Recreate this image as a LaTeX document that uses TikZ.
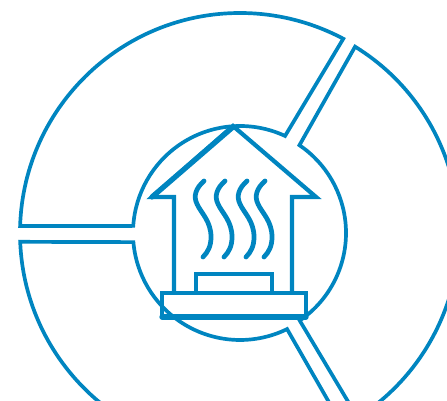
\documentclass[tikz,border=0pt]{standalone}
\usepackage{xcolor}
\usetikzlibrary{calc}
\definecolor{accent}{HTML}{0085C0}
\tikzset{
  vrim/.style={draw=accent,line width=2.1pt,line join=miter},
  vhub/.style={draw=accent,line width=1.8pt},
  vhouse/.style={draw=accent,line width=2.4pt,line join=miter},
  vheavy/.style={draw=accent,line width=3pt,line cap=round},
  vsteam/.style={draw=accent,line width=2.7pt,line cap=round}
}
\begin{document}
\begin{tikzpicture}[x=0.2mm,y=0.2mm]
  \useasboundingbox (0,0) rectangle (447,401);
  \clip (0,0) rectangle (447,401);
  \coordinate (hub) at (240,168);
  % three sectors round the hub
  \draw[vrim] ($(hub)+(178.2:220)$) arc[start angle=178.2,end angle=62,radius=220]
     -- ($(hub)+(65.1:107)$) arc[start angle=65.1,end angle=176.2,radius=107] -- cycle;
  \draw[vrim] ($(hub)+(58.3:219)$) arc[start angle=58.3,end angle=-57.5,radius=219]
     -- ($(hub)+(-55.7:106)$) arc[start angle=-55.7,end angle=55.9,radius=106] -- cycle;
  \draw[vrim] ($(hub)+(182.3:220)$) arc[start angle=182.3,end angle=298,radius=220]
     -- ($(hub)+(-63.9:107)$) arc[start angle=296.1,end angle=184.9,radius=107] -- cycle;
  % house
  \draw[vhouse] (174,109) -- (174,204) -- (152,204) -- (233,275) -- (316,204) -- (292,204) -- (292,109);
  \draw[vheavy] (152,204) -- (233,274);
  \draw[vhouse] (196,109) -- (196,127) -- (272,127) -- (272,109);
  \draw[vhouse] (162,108) rectangle (306,84);
  \draw[vheavy] (162,84) -- (306,84);
  % steam
  \foreach \sx in {0,21,43,61} {
    \draw[vsteam,shift={(\sx,0)}] (204,220) .. controls (196,213) and (193,205) .. (197,197)
       .. controls (201,188) and (211,180) .. (211,164) .. controls (211,155) and (208,149) .. (203,144);
  }
\end{tikzpicture}
\end{document}
